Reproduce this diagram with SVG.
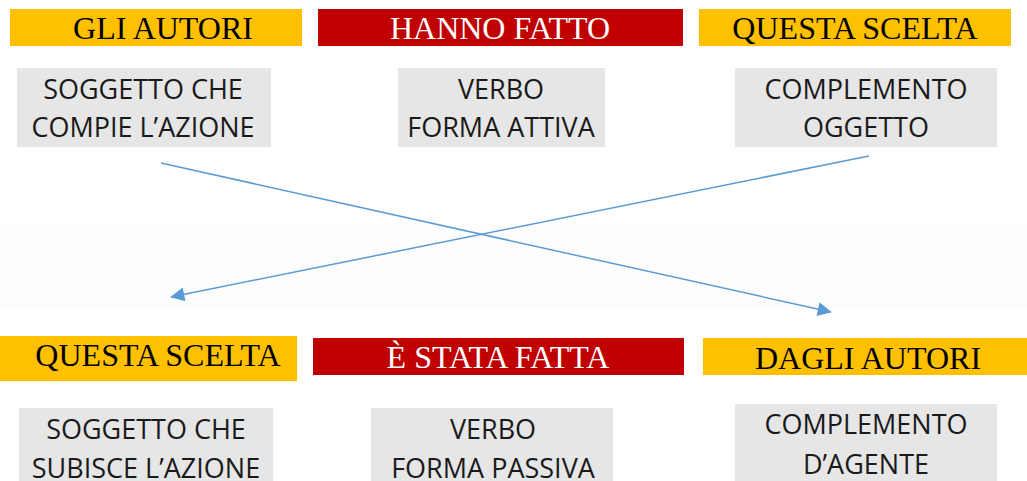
<svg xmlns="http://www.w3.org/2000/svg" width="1027" height="481" viewBox="0 0 1027 481">
<defs>
<style>
.yel{fill:#FFC000}
.red{fill:#C00000}
.box{fill:#E6E6E6}
.hd{font-family:"Liberation Serif","Times New Roman",serif;font-size:32px;text-anchor:middle}
.hdk{fill:#000}
.hdw{fill:#fff}
.tx{font-family:"Open Sans","Noto Sans",sans-serif;font-size:27px;fill:#1a1a1a;text-anchor:middle}
.conn{stroke:#5B9BD5;stroke-width:1.5;fill:none;marker-end:url(#ah)}
</style>
<marker id="ah" viewBox="0 0 10 10" refX="9.5" refY="5" markerWidth="16" markerHeight="14" markerUnits="userSpaceOnUse" orient="auto">
<path d="M0,0 L10,5 L0,10 Z" fill="#5B9BD5"/>
</marker>
</defs>
<rect width="1027" height="481" fill="#fff"/>
<rect x="0" y="223" width="1027" height="84" fill="#FDFDFD"/>

<g id="gli-autori">
<rect class="yel" x="10" y="9" width="292" height="37"/>
<text class="hd hdk" x="163" y="39">GLI AUTORI</text>
</g>
<g id="hanno-fatto">
<rect class="red" x="318" y="9" width="365" height="37"/>
<text class="hd hdw" x="500" y="39">HANNO FATTO</text>
</g>
<g id="questa-scelta-top">
<rect class="yel" x="699" y="9" width="312" height="37"/>
<text class="hd hdk" x="855" y="39">QUESTA SCELTA</text>
</g>

<g id="soggetto-compie">
<rect class="box" x="17" y="68" width="254" height="79"/>
<text class="tx" x="143" y="99">SOGGETTO CHE</text>
<text class="tx" x="143" y="137">COMPIE L’AZIONE</text>
</g>
<g id="verbo-attiva">
<rect class="box" x="398" y="68" width="207" height="79"/>
<text class="tx" x="501" y="99">VERBO</text>
<text class="tx" x="501" y="137">FORMA ATTIVA</text>
</g>
<g id="complemento-oggetto">
<rect class="box" x="735" y="68" width="262" height="79"/>
<text class="tx" x="866" y="99">COMPLEMENTO</text>
<text class="tx" x="866" y="137">OGGETTO</text>
</g>

<g id="questa-scelta-bottom">
<rect class="yel" x="0" y="336" width="297" height="45"/>
<text class="hd hdk" x="158" y="366">QUESTA SCELTA</text>
</g>
<g id="e-stata-fatta">
<rect class="red" x="313" y="338" width="371" height="37"/>
<text class="hd hdw" x="498" y="368">È STATA FATTA</text>
</g>
<g id="dagli-autori">
<rect class="yel" x="703" y="338" width="324" height="37"/>
<text class="hd hdk" x="868" y="369">DAGLI AUTORI</text>
</g>

<g id="soggetto-subisce">
<rect class="box" x="19" y="408" width="254" height="73"/>
<text class="tx" x="146" y="439">SOGGETTO CHE</text>
<text class="tx" x="146" y="478">SUBISCE L’AZIONE</text>
</g>
<g id="verbo-passiva">
<rect class="box" x="371" y="408" width="242" height="73"/>
<text class="tx" x="493" y="439">VERBO</text>
<text class="tx" x="493" y="478">FORMA PASSIVA</text>
</g>
<g id="complemento-agente">
<rect class="box" x="735" y="404" width="262" height="77"/>
<text class="tx" x="866" y="434">COMPLEMENTO</text>
<text class="tx" x="866" y="474">D’AGENTE</text>
</g>

<g id="connectors">
<line class="conn" x1="161" y1="163" x2="831" y2="312"/>
<line class="conn" x1="869" y1="156" x2="171" y2="297"/>
</g>
</svg>
